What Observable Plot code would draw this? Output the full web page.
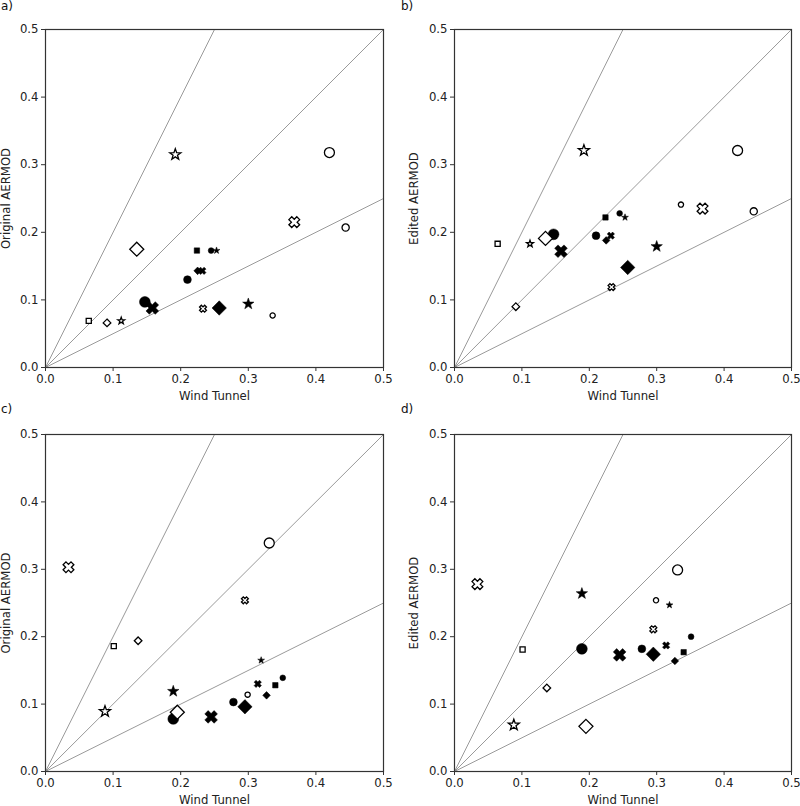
<!DOCTYPE html>
<html><head><meta charset="utf-8">
<script src="https://cdn.jsdelivr.net/npm/d3@7"></script>
<script src="https://cdn.jsdelivr.net/npm/@observablehq/plot@0.6"></script>
<style>
body{margin:0;background:#fff;font-family:"DejaVu Sans",sans-serif;}
#wrap{position:relative;width:800px;height:806px;overflow:hidden;}
.panel{position:absolute;}
.tag{position:absolute;font-size:12px;color:#111;font-family:"DejaVu Sans",sans-serif;}
</style></head><body><div id="wrap"></div>
<script>
// ---------- data ----------
const tickValues = [0.0, 0.1, 0.2, 0.3, 0.4, 0.5];
const refRatios = [0.5, 1, 2];
const panelTags = ["a)", "b)", "c)", "d)"];
const yLabels = ["Original AERMOD", "Edited AERMOD", "Original AERMOD", "Edited AERMOD"];
const xLabel = "Wind Tunnel";

// marker category of each case (panels a, b)
const abMarker = ["sq-o-S","dia-o-S","star-o-S","cir-f-L","x-f-L","star-o-L","dia-o-L","cir-f-M","sq-f-S","dia-f-S","x-f-S","cir-f-S","star-f-S","x-o-S","dia-f-L","star-f-M","cir-o-S","x-o-M","cir-o-L","cir-o-M"];
const abWind   = [0.064,0.091,0.112,0.147,0.158,0.192,0.135,0.210,0.224,0.225,0.232,0.245,0.253,0.233,0.257,0.300,0.336,0.368,0.420,0.444];
const aOriginal= [0.069,0.066,0.069,0.097,0.088,0.315,0.175,0.130,0.173,0.143,0.143,0.173,0.173,0.087,0.088,0.094,0.077,0.215,0.318,0.207];
const bEdited  = [0.183,0.090,0.183,0.197,0.172,0.321,0.191,0.195,0.222,0.188,0.195,0.228,0.222,0.119,0.148,0.179,0.241,0.235,0.321,0.231];

// marker category of each case (panels c, d)
const cdMarker = ["x-o-M","sq-o-S","dia-o-S","star-o-L","star-f-M","cir-f-L","dia-o-L","x-f-L","cir-f-M","dia-f-L","cir-o-S","x-o-S","x-f-S","star-f-S","dia-f-S","sq-f-S","cir-f-S","cir-o-L"];
const cdWind   = [0.034,0.101,0.137,0.088,0.189,0.189,0.195,0.245,0.278,0.295,0.299,0.295,0.314,0.319,0.327,0.340,0.351,0.331];
const cOriginal= [0.303,0.186,0.194,0.089,0.119,0.078,0.088,0.081,0.103,0.096,0.114,0.254,0.130,0.165,0.113,0.128,0.139,0.339];
const dEdited  = [0.278,0.181,0.124,0.069,0.264,0.182,0.067,0.173,0.182,0.174,0.254,0.211,0.187,0.247,0.164,0.177,0.200,0.299];

// ---------- symbols ----------
function poly(fn){
  return {draw(ctx, size){
    const R = Math.sqrt(size / Math.PI);
    const p = fn(R);
    ctx.moveTo(p[0][0], p[0][1]);
    for (let i = 1; i < p.length; i++) ctx.lineTo(p[i][0], p[i][1]);
    ctx.closePath();
  }};
}
const circleSym = {draw(ctx, size){ const R = Math.sqrt(size / Math.PI); ctx.moveTo(R, 0); ctx.arc(0, 0, R, 0, 2 * Math.PI); ctx.closePath(); }};
const squareSym = poly(R => { const h = R * 0.8; return [[-h,-h],[h,-h],[h,h],[-h,h]]; });
const diamondSym = poly(R => [[0,-R],[R,0],[0,R],[-R,0]]);
const starSym = poly(R => { const p = []; for (let i = 0; i < 10; i++) { const a = -Math.PI/2 + i*Math.PI/5; const rr = i % 2 ? R*0.4 : R; p.push([rr*Math.cos(a), rr*Math.sin(a)]); } return p; });
const xSym = poly(R => {
  const t = R * 0.36;
  const base = [[-t,-R],[t,-R],[t,-t],[R,-t],[R,t],[t,t],[t,R],[-t,R],[-t,t],[-R,t],[-R,-t],[-t,-t]];
  const c = Math.SQRT1_2;
  return base.map(([x,y]) => [x*c - y*c, x*c + y*c]);
});

const styles = {
  "cir-f-L": {sym: circleSym, r: 5.4, filled: true},
  "cir-f-M": {sym: circleSym, r: 3.9, filled: true},
  "cir-f-S": {sym: circleSym, r: 2.9, filled: true},
  "cir-o-L": {sym: circleSym, r: 5.0, filled: false},
  "cir-o-M": {sym: circleSym, r: 3.6, filled: false},
  "cir-o-S": {sym: circleSym, r: 2.6, filled: false},
  "sq-o-S":  {sym: squareSym, r: 3.2, filled: false},
  "sq-f-S":  {sym: squareSym, r: 3.4, filled: true},
  "dia-o-S": {sym: diamondSym, r: 3.8, filled: false},
  "dia-f-S": {sym: diamondSym, r: 3.8, filled: true},
  "dia-o-L": {sym: diamondSym, r: 7.0, filled: false},
  "dia-f-L": {sym: diamondSym, r: 7.2, filled: true},
  "star-o-S":{sym: starSym, r: 3.6, filled: false},
  "star-f-S":{sym: starSym, r: 3.6, filled: true},
  "star-o-L":{sym: starSym, r: 5.8, filled: false},
  "star-f-M":{sym: starSym, r: 6.0, filled: true},
  "x-f-L":   {sym: xSym, r: 6.6, filled: true},
  "x-f-S":   {sym: xSym, r: 3.8, filled: true},
  "x-o-S":   {sym: xSym, r: 3.6, filled: false},
  "x-o-M":   {sym: xSym, r: 5.6, filled: false}
};

// ---------- panels ----------
const panels = [
  {tag: 0, markers: abMarker, xs: abWind, ys: aOriginal, left: 0,   top: 0,   mL: 45, mR: 17, mT: 29, mB: 36, yOff: 44},
  {tag: 1, markers: abMarker, xs: abWind, ys: bEdited,   left: 400, top: 0,   mL: 54, mR: 9,  mT: 29, mB: 36, yOff: 45},
  {tag: 2, markers: cdMarker, xs: cdWind, ys: cOriginal, left: 0,   top: 403, mL: 45, mR: 17, mT: 31, mB: 35, yOff: 44},
  {tag: 3, markers: cdMarker, xs: cdWind, ys: dEdited,   left: 400, top: 403, mL: 54, mR: 9,  mT: 31, mB: 35, yOff: 45}
];

const wrap = document.getElementById("wrap");
for (const p of panels) {
  const data = p.markers.map((m, i) => ({m, x: p.xs[i], y: p.ys[i]}));
  const dotMarks = data.map(d => {
    const st = styles[d.m];
    return Plot.dot([d], {x: "x", y: "y", r: st.r, symbol: st.sym,
      fill: st.filled ? "#000" : "#fff", stroke: "#000", strokeWidth: st.filled ? 0.5 : 1.3});
  });
  const chart = Plot.plot({
    width: 400, height: 403,
    marginLeft: p.mL, marginRight: p.mR, marginTop: p.mT, marginBottom: p.mB,
    style: {fontFamily: "DejaVu Sans, sans-serif", fontSize: "11.7px", color: "#222", background: "transparent"},
    x: {domain: [0, 0.5]},
    y: {domain: [0, 0.5]},
    marks: [
      Plot.link(refRatios, {x1: () => 0, y1: () => 0,
        x2: r => Math.min(0.5, 0.5 / r), y2: r => Math.min(0.5, 0.5 * r),
        stroke: "#9a9a9a", strokeWidth: 1}),
      ...dotMarks,
      Plot.frame({stroke: "#333", strokeWidth: 1.2}),
      Plot.axisX({ticks: tickValues, tickFormat: d3.format(".1f"), tickSize: 4, tickPadding: 3, fontSize: 11.7,
        label: xLabel, labelAnchor: "center", labelArrow: "none", labelOffset: 32, stroke: "#333"}),
      Plot.axisY({ticks: tickValues, tickFormat: d3.format(".1f"), tickSize: 4, tickPadding: 3, fontSize: 11.7,
        label: yLabels[p.tag], labelAnchor: "center", labelArrow: "none", labelOffset: p.yOff, stroke: "#333"})
    ]
  });
  chart.classList.add("panel");
  chart.style.left = p.left + "px";
  chart.style.top = p.top + "px";
  wrap.appendChild(chart);
  const t = document.createElement("div");
  t.className = "tag";
  t.textContent = panelTags[p.tag];
  t.style.left = (p.left + 1) + "px";
  t.style.top = (p.top - 1) + "px";
  wrap.appendChild(t);
}
</script></body></html>
